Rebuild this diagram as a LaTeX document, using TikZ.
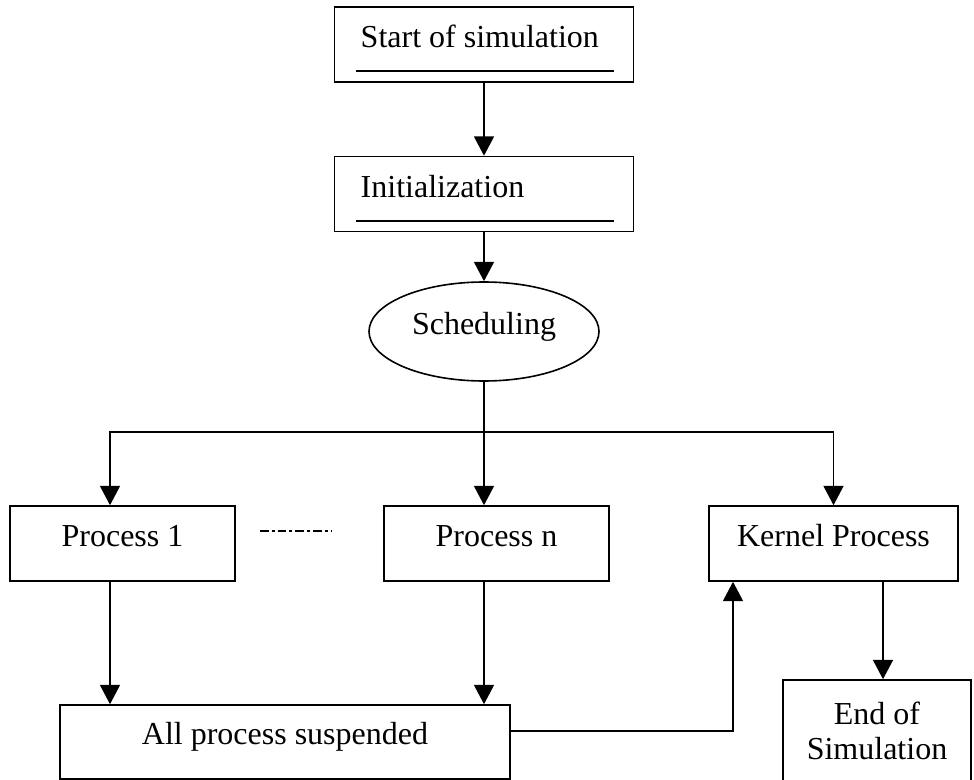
\documentclass[tikz,border=0pt]{standalone}
\usepackage{fontspec}
\setmainfont{Liberation Serif}
\usetikzlibrary{arrows.meta, shapes.geometric, calc}

\begin{document}
\begin{tikzpicture}[
  x=0.75pt, y=-0.75pt,
  every node/.style={font=\fontsize{24}{26}\selectfont},
  box/.style={draw, line width=1.2pt, inner sep=0pt, minimum height=56.25pt},
  oneline/.style={text height=16pt, text depth=12pt},
  arrow/.style={-{Triangle[length=14.5pt, width=15pt]}, line width=1.2pt},
  underbar/.style={line width=1.5pt},
  dotdash/.style={line width=1.2pt, dash pattern=on 6.5pt off 2.25pt on 2.25pt off 2.25pt}
]
  \useasboundingbox (0,0) rectangle (974,780);

  % Boxes at the top
  \node[box, minimum width=224.25pt] (start) at (484,44.5) {};
  \node[anchor=base west] (starttxt) at (356,48) {Start of simulation};
  \draw[underbar] (356,71) -- (614,71);

  \node[box, minimum width=224.25pt] (init) at (484,194) {};
  \node[anchor=base west] (inittxt) at (356,198) {Initialization};
  \draw[underbar] (356,221) -- (614,221);

  \node[draw, ellipse, line width=1.2pt, inner sep=0pt, oneline,
        minimum width=172.5pt, minimum height=74.25pt] (sched) at (484,331.5) {Scheduling};

  % Row of processes
  \node[box, oneline, minimum width=168.75pt] (p1) at (122.5,543.5) {Process 1};
  \node[box, oneline, minimum width=168.75pt] (pn) at (496.5,543.5) {Process n};
  \node[box, oneline, minimum width=186.75pt] (kern) at (833.5,543.5) {Kernel Process};
  \draw[dotdash] (260,531) -- (332,531);

  % Bottom boxes
  \node[box, oneline, minimum width=337.5pt, minimum height=55.5pt] (susp) at (285,742) {All process suspended};
  \node[box, align=center, minimum width=141pt, minimum height=76.5pt] (end) at (877,731) {End of\\Simulation};

  % Arrows
  \draw[arrow] (start) -- (init);
  \draw[arrow] (init) -- (sched);
  \coordinate (fork) at (sched.south |- 0,432);
  \draw[arrow] (sched.south) -- (sched.south |- pn.north);
  \draw[arrow] (fork) -| (110,0 |- p1.north);
  \draw[arrow] (fork) -| (kern.north);

  \draw[arrow] (110,0 |- p1.south) -- (110,0 |- susp.north);
  \draw[arrow] (sched.south |- pn.south) -- (sched.south |- susp.north);

  % Back to the kernel, then to the end
  \draw[arrow] (susp.east |- 0,731) -| (733,0 |- kern.south);
  \draw[arrow] (883,0 |- kern.south) -- (883,0 |- end.north);

\end{tikzpicture}
\end{document}
